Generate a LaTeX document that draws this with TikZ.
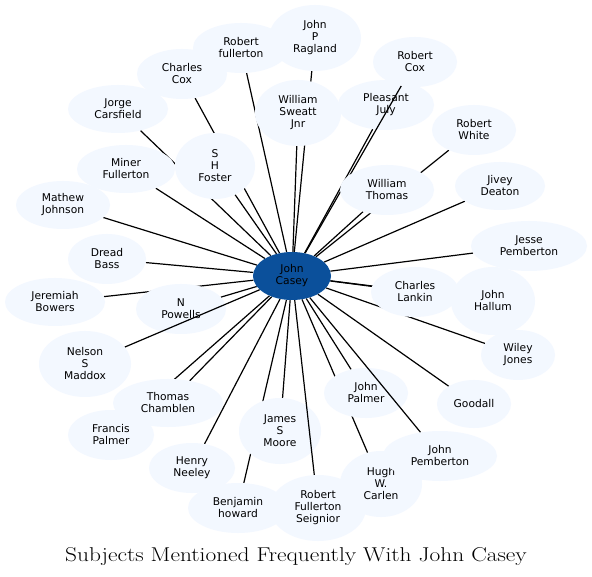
\documentclass[tikz,border=0pt]{standalone}
\usepackage{fontspec}
\usepackage{graphicx}
\usetikzlibrary{shapes.geometric}
\newfontfamily\nodefont{DejaVu Sans}
\definecolor{nodefill}{HTML}{F3F8FF}
\definecolor{hubfill}{HTML}{0B509B}
\pgfdeclarelayer{bg}
\pgfdeclarelayer{lone}
\pgfdeclarelayer{ltwo}
\pgfsetlayers{bg,lone,ltwo,main}
\tikzset{
  nd/.style={ellipse, fill=nodefill, draw=none, inner sep=0pt, align=center,
    font=\nodefont\fontsize{10.7}{12}\selectfont},
  sz/.style 2 args={minimum width=#1pt, minimum height=#2pt},
  hub/.style={nd, fill=hubfill},
  edge/.style={draw=black, line width=1.2pt},
}
\begin{document}
\begin{tikzpicture}[x=1pt,y=-1pt]
\useasboundingbox (0,0) rectangle (592,577);
% nodes below some edges
\begin{pgfonlayer}{lone}
\node[nd,sz={96}{50}] (pj) at (386,105) {Pleasant\\July};
\node[nd,sz={90}{50}] (np) at (181,309) {N\\Powells};
\node[nd,sz={82}{66}] (jsm) at (280,431) {James\\S\\Moore};
\node[nd,sz={84}{50}] (jpal) at (366,393) {John\\Palmer};
\end{pgfonlayer}
% other nodes
\node[hub,sz={78}{48}] (jc) at (292,276) {John\\Casey};
\node[nd,sz={92}{66}] (rag) at (315,38) {John\\P\\Ragland};
\node[nd,sz={96}{50}] (rful) at (241,48) {Robert\\fullerton};
\node[nd,sz={90}{50}] (ccox) at (182,74) {Charles\\Cox};
\node[nd,sz={100}{48}] (jorge) at (118,109) {Jorge\\Carsfield};
\node[nd,sz={98}{48}] (miner) at (126,169) {Miner\\Fullerton};
\node[nd,sz={80}{66}] (shf) at (215,166) {S\\H\\Foster};
\node[nd,sz={86}{66}] (wsj) at (298,113) {William\\Sweatt\\Jnr};
\node[nd,sz={84}{50}] (rcox) at (415,62) {Robert\\Cox};
\node[nd,sz={84}{50}] (rwhite) at (474,130) {Robert\\White};
\node[nd,sz={94}{50}] (wt) at (387,190) {William\\Thomas};
\node[nd,sz={90}{48}] (jd) at (500,186) {Jivey\\Deaton};
\node[nd,sz={94}{48}] (mj) at (63,205) {Mathew\\Johnson};
\node[nd,sz={78}{50}] (db) at (107,259) {Dread\\Bass};
\node[nd,sz={100}{48}] (jb) at (55,302) {Jeremiah\\Bowers};
\node[nd,sz={92}{66}] (nsm) at (85,364) {Nelson\\S\\Maddox};
\node[nd,sz={116}{50}] (jesse) at (529,246) {Jesse\\Pemberton};
\node[nd,sz={84}{68}] (jh) at (493,301) {John\\Hallum};
\node[nd,sz={88}{50}] (cl) at (415,292) {Charles\\Lankin};
\node[nd,sz={74}{50}] (wj) at (518,355) {Wiley\\Jones};
\node[nd,sz={110}{48}] (tc) at (168,403) {Thomas\\Chamblen};
\node[nd,sz={86}{50}] (fp) at (111,435) {Francis\\Palmer};
\node[nd,sz={86}{50}] (hn) at (192,468) {Henry\\Neeley};
\node[nd,sz={100}{50}] (bh) at (238,508) {Benjamin\\howard};
\node[nd,sz={82}{66}] (hwc) at (381,484) {Hugh\\W.\\Carlen};
\node[nd,sz={96}{66}] (rfs) at (318,508) {Robert\\Fullerton\\Seignior};
\node[nd,sz={74}{48}] (good) at (474,404) {Goodall};
\node[nd,sz={114}{50}] (jpem) at (440,456) {John\\Pemberton};
% edges below nodes
\begin{pgfonlayer}{bg}
\fill[white] (0,0) rectangle (592,577);
\foreach \t in {rag,rful,ccox,jorge,miner,shf,wsj,pj,rwhite,wt,jd,mj,db,jb,np,jesse,jh,cl,wj,tc,fp,hn,jsm,bh,hwc,jpal,good}
  \draw[edge] (jc) -- (\t);
\end{pgfonlayer}
% edges above some nodes
\begin{pgfonlayer}{ltwo}
\foreach \t in {rcox,nsm,rfs,jpem}
  \draw[edge] (jc) -- (\t);
\end{pgfonlayer}
\node[anchor=base] (title) at (296,561) {\scalebox{1.168}[1]{\fontsize{20}{24}\selectfont Subjects Mentioned Frequently With John Casey}};
\end{tikzpicture}
\end{document}
